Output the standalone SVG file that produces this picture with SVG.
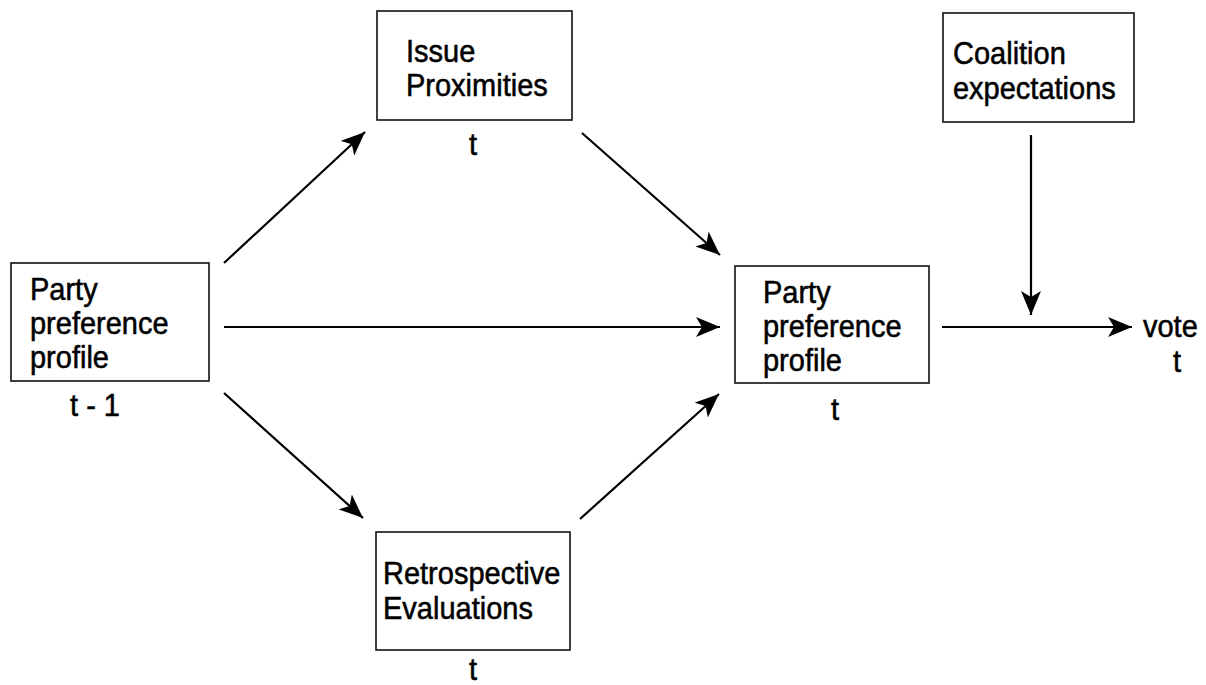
<svg xmlns="http://www.w3.org/2000/svg" width="1206" height="685" viewBox="0 0 1206 685">
<style>
.box{fill:#fff;stroke:#111;stroke-width:1.6}
.lbl{font-family:"Liberation Sans",Arial,sans-serif;font-size:29px;fill:#000;stroke:#000;stroke-width:0.5}
.ctr{text-anchor:middle}
.edge{stroke:#000;stroke-width:2.2;fill:none;marker-end:url(#ah)}
</style>
<defs>
<marker id="ah" markerUnits="userSpaceOnUse" markerWidth="26" markerHeight="20" refX="24" refY="10" orient="auto">
<path d="M0,0 L24,10 L0,20 L6,10 Z" fill="#000"/>
</marker>
</defs>
<rect width="1206" height="685" fill="#fff"/>
<g id="connectors">
<line class="edge" x1="224" y1="263" x2="365" y2="132"/>
<line class="edge" x1="224" y1="327" x2="720" y2="327"/>
<line class="edge" x1="224" y1="393" x2="363" y2="518"/>
<line class="edge" x1="582" y1="133" x2="720" y2="255"/>
<line class="edge" x1="580" y1="519" x2="719" y2="394"/>
<line class="edge" x1="942" y1="327" x2="1132" y2="327"/>
<line class="edge" x1="1031" y1="135" x2="1031" y2="315"/>
</g>
<g id="ppp_prev">
<rect class="box" x="11" y="263" width="198" height="118"/>
<text class="lbl" transform="translate(30,300) scale(1,1.06)">Party</text>
<text class="lbl" transform="translate(30,334) scale(1,1.06)">preference</text>
<text class="lbl" transform="translate(30,368) scale(1,1.06)">profile</text>
<text class="lbl ctr" transform="translate(95,416) scale(1,1.06)">t - 1</text>
</g>
<g id="issue">
<rect class="box" x="377" y="11" width="195" height="109"/>
<text class="lbl" transform="translate(406,62) scale(1,1.06)">Issue</text>
<text class="lbl" transform="translate(406,96) scale(1,1.06)">Proximities</text>
<text class="lbl ctr" transform="translate(473,155) scale(1,1.06)">t</text>
</g>
<g id="retro">
<rect class="box" x="376" y="532" width="194" height="118"/>
<text class="lbl" transform="translate(383,584) scale(1,1.06)">Retrospective</text>
<text class="lbl" transform="translate(383,619) scale(1,1.06)">Evaluations</text>
<text class="lbl ctr" transform="translate(473,680) scale(1,1.06)">t</text>
</g>
<g id="ppp_now">
<rect class="box" x="735" y="266" width="194" height="117"/>
<text class="lbl" transform="translate(763,303) scale(1,1.06)">Party</text>
<text class="lbl" transform="translate(763,337) scale(1,1.06)">preference</text>
<text class="lbl" transform="translate(763,371) scale(1,1.06)">profile</text>
<text class="lbl ctr" transform="translate(835,420) scale(1,1.06)">t</text>
</g>
<g id="coalition">
<rect class="box" x="943" y="13" width="191" height="109"/>
<text class="lbl" transform="translate(953,64) scale(1,1.06)">Coalition</text>
<text class="lbl" transform="translate(953,99) scale(1,1.06)">expectations</text>
</g>
<g id="vote">
<text class="lbl" transform="translate(1143,337) scale(1,1.06)">vote</text>
<text class="lbl ctr" transform="translate(1177,372) scale(1,1.06)">t</text>
</g>
</svg>
